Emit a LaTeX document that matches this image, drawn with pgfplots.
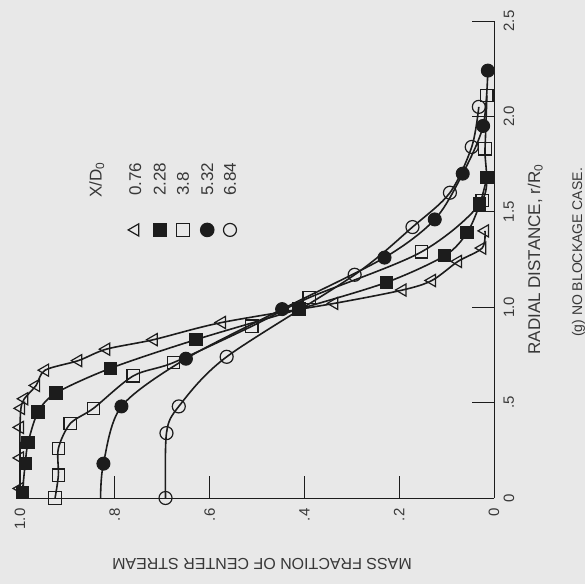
\documentclass[border=0pt]{standalone}
\usepackage{pgfplots}
\usepackage{pgfplotstable}
\pgfplotsset{compat=1.18}
\usepackage{fontspec}
\setmainfont{Liberation Sans}
\usetikzlibrary{backgrounds}
\definecolor{bg}{HTML}{E8E8E8}
\definecolor{ink}{HTML}{1C1C1C}
\definecolor{txt}{HTML}{383838}

% m = mass fraction of center stream, r = radial distance r/R0
\pgfplotstableread{
m r
1.000 0.05
1.000 0.21
1.000 0.37
0.998 0.47
0.991 0.52
0.966 0.59
0.947 0.67
0.877 0.72
0.818 0.78
0.718 0.83
0.574 0.92
0.337 1.02
0.193 1.09
0.131 1.14
0.076 1.24
0.025 1.31
0.019 1.40
}\dataA
\pgfplotstableread{
m r
0.995 0.03
0.989 0.18
0.983 0.29
0.962 0.45
0.924 0.55
0.809 0.68
0.629 0.83
0.411 0.99
0.227 1.13
0.104 1.27
0.057 1.39
0.030 1.54
0.015 1.68
}\dataB
\pgfplotstableread{
m r
0.926 0.00
0.919 0.12
0.919 0.26
0.894 0.39
0.845 0.47
0.761 0.64
0.676 0.71
0.511 0.90
0.390 1.05
0.153 1.29
0.025 1.56
0.019 1.83
0.015 2.11
}\dataC
\pgfplotstableread{
m r
0.830 0.00
0.824 0.18
0.786 0.48
0.650 0.73
0.447 0.99
0.231 1.26
0.125 1.46
0.066 1.70
0.023 1.95
0.013 2.24
}\dataD
\pgfplotstableread{
m r
0.693 0.00
0.691 0.34
0.665 0.48
0.564 0.74
0.294 1.17
0.172 1.42
0.093 1.60
0.047 1.84
0.032 2.05
}\dataE

\begin{document}
\begin{tikzpicture}
\begin{axis}[name=ax, scale only axis, width=474pt, height=477pt,
  xmin=-1, xmax=0, ymin=0, ymax=2.5,
  axis x line*=bottom, axis y line*=right,
  axis line style={-, ink, line width=1pt},
  tick align=inside, major tick length=22pt,
  every tick/.style={ink, line width=0.9pt},
  xtick={-1,-0.8,-0.6,-0.4,-0.2,0}, xticklabels={1.0,.8,.6,.4,.2,0},
  ytick={0,0.5,1,1.5,2,2.5}, yticklabels={0,.5,1.0,1.5,2.0,2.5},
  xticklabel style={rotate=90, anchor=east, font=\fontsize{15}{17}\selectfont, text=txt},
  yticklabel style={rotate=90, anchor=north, font=\fontsize{15}{17}\selectfont, text=txt},
  xticklabel shift=7pt, yticklabel shift=6pt,
  clip=false,
  every axis plot/.append style={ink, line width=1.6pt},
]
\addplot[smooth, mark=triangle, mark size=7pt, mark options={solid, rotate=90, fill=bg, line width=1.2pt}]
  table[x expr=-\thisrow{m}, y=r] {\dataA};
\addplot[smooth, mark=square*, mark size=6.2pt, mark options={solid, fill=ink, line width=1pt}]
  table[x expr=-\thisrow{m}, y=r] {\dataB};
\addplot[smooth, mark=square, mark size=6.2pt, mark options={solid, fill=bg, line width=1.2pt}]
  table[x expr=-\thisrow{m}, y=r] {\dataC};
\addplot[smooth, mark=*, mark size=6.5pt, mark indices={2,...,10}, mark options={solid, fill=ink, line width=1pt}]
  table[x expr=-\thisrow{m}, y=r] {\dataD};
\addplot[smooth, mark=o, mark size=6.5pt, mark options={solid, fill=bg, line width=1.2pt}]
  table[x expr=-\thisrow{m}, y=r] {\dataE};
% legend symbols
\addplot[only marks, mark=triangle, mark size=7pt, mark options={rotate=90, fill=bg, line width=1.2pt}] coordinates {(-0.757,1.405)};
\addplot[only marks, mark=square*, mark size=6.2pt, mark options={fill=ink}] coordinates {(-0.705,1.405)};
\addplot[only marks, mark=square, mark size=6.2pt, mark options={fill=bg, line width=1.2pt}] coordinates {(-0.656,1.405)};
\addplot[only marks, mark=*, mark size=6.5pt, mark options={fill=ink}] coordinates {(-0.605,1.405)};
\addplot[only marks, mark=o, mark size=6.5pt, mark options={fill=bg, line width=1.2pt}] coordinates {(-0.557,1.405)};
\begin{scope}[every node/.style={rotate=90, anchor=west, text=txt, font=\fontsize{17}{19}\selectfont}]
\node at (axis cs:-0.838,1.555) {X/D\textsubscript{0}};
\node at (axis cs:-0.757,1.565) {0.76};
\node at (axis cs:-0.705,1.565) {2.28};
\node at (axis cs:-0.656,1.565) {3.8};
\node at (axis cs:-0.605,1.565) {5.32};
\node at (axis cs:-0.557,1.565) {6.84};
\end{scope}
\end{axis}
\node[rotate=90, anchor=base, text=txt, font=\fontsize{17}{20}\selectfont]
  at ([xshift=46pt]ax.east) {RADIAL DISTANCE, r/R\textsubscript{0}};
\node[rotate=90, anchor=base, text=txt, font=\fontsize{14}{17}\selectfont]
  at ([xshift=88pt, yshift=7pt]ax.east) {(g) NO BLOCKAGE CASE.};
\node[rotate=180, anchor=base, text=txt, font=\fontsize{16}{19}\selectfont]
  at ([xshift=5pt, yshift=-60pt]ax.south) {MASS FRACTION OF CENTER STREAM};
\pgfresetboundingbox
\path[use as bounding box] ([shift={(-20pt,-86pt)}]ax.south west) rectangle ([shift={(91pt,21pt)}]ax.north east);
\begin{scope}[on background layer]
\fill[bg] ([shift={(-20pt,-86pt)}]ax.south west) rectangle ([shift={(91pt,21pt)}]ax.north east);
\end{scope}
\end{tikzpicture}
\end{document}
